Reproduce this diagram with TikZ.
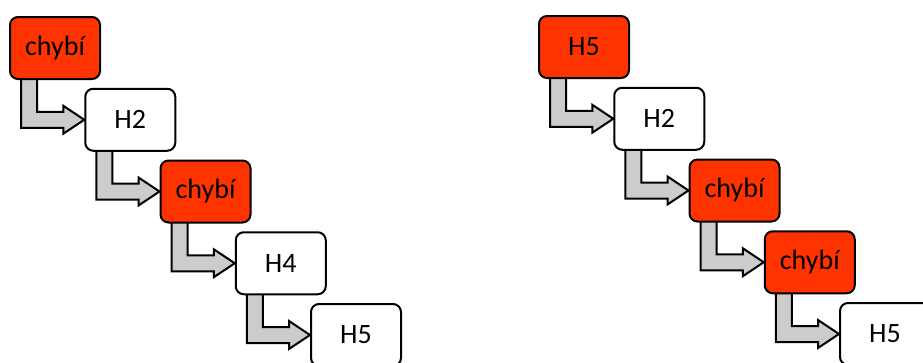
\documentclass[tikz,border=0pt]{standalone}
\usepackage{fontspec}
\setmainfont{Carlito}
\usepackage{tikz}
\usetikzlibrary{calc, backgrounds}
\usepackage{xcolor}
\definecolor{chybired}{RGB}{255,51,0}
\definecolor{pipegray}{RGB}{204,204,204}

\begin{document}
\begin{tikzpicture}[
    x=0.75pt, y=-0.75pt,
    entry/.style={rectangle, rounded corners=6pt, minimum width=67.5pt, minimum height=46.5pt, text centered, draw=black, line width=1.5pt, fill=white, font=\fontsize{21}{25}\selectfont},
    empty/.style={entry, fill=chybired},
    shiftarrow/.style={draw=black, line width=1.5pt, fill=pipegray, to path={
        let \p1=(\tikztostart.south west), \p2=(\tikztotarget.west) in
        (\x1+9pt,\y1+4pt) -- (\x1+9pt,\y2-6pt) -- (\x2-15.75pt,\y2-6pt) -- (\x2-15.75pt,\y2-10.5pt)
        -- (\p2) -- (\x2-15.75pt,\y2+10.5pt) -- (\x2-15.75pt,\y2+6pt) -- (\x1+21pt,\y2+6pt) -- (\x1+21pt,\y1+4pt)}}]
\useasboundingbox (0,0) rectangle (923,362);
% left chain
\node (l1) [empty] at (55,48) {chybí};
\node (l2) [entry] at (130.25,119.75) {H2};
\node (l3) [empty] at (205.5,191.5) {chybí};
\node (l4) [entry] at (280.75,263.25) {H4};
\node (l5) [entry] at (356,335) {H5};
% right chain
\node (r1) [empty] at (584,47) {H5};
\node (r2) [entry] at (659.25,118.75) {H2};
\node (r3) [empty] at (734.5,190.5) {chybí};
\node (r4) [empty] at (809.75,262.25) {chybí};
\node (r5) [entry] at (885,334) {H5};
\begin{scope}[on background layer]
\draw [shiftarrow] (l1) to (l2);
\draw [shiftarrow] (l2) to (l3);
\draw [shiftarrow] (l3) to (l4);
\draw [shiftarrow] (l4) to (l5);
\draw [shiftarrow] (r1) to (r2);
\draw [shiftarrow] (r2) to (r3);
\draw [shiftarrow] (r3) to (r4);
\draw [shiftarrow] (r4) to (r5);
\end{scope}
\end{tikzpicture}
\end{document}
